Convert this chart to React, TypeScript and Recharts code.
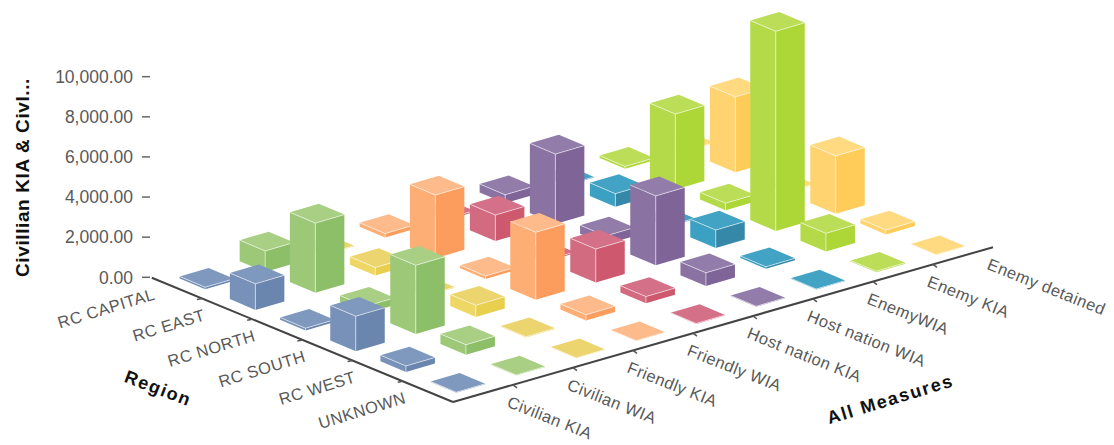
import { ReferenceLine, Scatter, ScatterChart, XAxis, YAxis } from 'recharts';

const regions = ['RC CAPITAL', 'RC EAST', 'RC NORTH', 'RC SOUTH', 'RC WEST', 'UNKNOWN'];
const measures = [
  'Civilian KIA',
  'Civilian WIA',
  'Friendly KIA',
  'Friendly WIA',
  'Host nation KIA',
  'Host nation WIA',
  'EnemyWIA',
  'Enemy KIA',
  'Enemy detained',
];
const valueTicks = [0, 2000, 4000, 6000, 8000, 10000];

// one value per region, same order as regions
const civilianKia = [100, 1300, 120, 1750, 300, 20];
const civilianWia = [1050, 3470, 350, 3430, 500, 20];
const friendlyKia = [30, 400, 30, 580, 40, 20];
const friendlyWia = [200, 3150, 150, 3360, 280, 20];
const hostNationKia = [60, 1300, 60, 1670, 330, 20];
const hostNationWia = [420, 3480, 430, 3460, 660, 20];
const enemyWia = [30, 650, 30, 900, 100, 20];
const enemyKia = [120, 3760, 350, 9950, 910, 50];
const enemyDetained = [30, 3760, 30, 2880, 220, 20];
const measureValues = [
  civilianKia,
  civilianWia,
  friendlyKia,
  friendlyWia,
  hostNationKia,
  hostNationWia,
  enemyWia,
  enemyKia,
  enemyDetained,
];

// top, left side, right side for each measure
const palette = [
  ['#7f98be', '#7891b8', '#6a85ae'],
  ['#a8cf84', '#9cc878', '#8dbf68'],
  ['#ecd56f', '#efd766', '#e9cf4e'],
  ['#fdbb8b', '#fdae75', '#fc9d5e'],
  ['#d47088', '#d26a80', '#ce586e'],
  ['#917caa', '#8a72a3', '#7f6498'],
  ['#43a3c4', '#3ba0c2', '#3688a8'],
  ['#bcdd58', '#b5da49', '#add637'],
  ['#ffda80', '#ffd36f', '#ffcb59'],
];

const WIDTH = 1114;
const HEIGHT = 445;
const AXIS_WIDTH = 150;
const Y_MIN = -8360;
const Y_MAX = 13823;
const FONT = '"Liberation Sans", Arial, sans-serif';

const yUnit = HEIGHT / (Y_MAX - Y_MIN);

// floor plane: one region step and one measure step, in pixels
const REGION_STEP = [50.2, 20.7];
const MEASURE_STEP = [60, -17.2];
const FRONT_CORNER = [303, 124.7]; // relative to the zero tick

// floor position given in region/measure steps -> chart x/y values
const project = (r: number, m: number, value = 0) => ({
  sx: FRONT_CORNER[0] + (r - 6) * REGION_STEP[0] + m * MEASURE_STEP[0],
  sy: value - (FRONT_CORNER[1] + (r - 6) * REGION_STEP[1] + m * MEASURE_STEP[1]) / yUnit,
});

const cells: any[] = [];
regions.forEach((_, r) => {
  for (let m = measures.length - 1; m >= 0; m--) {
    const value = measureValues[m][r];
    cells.push({ ...project(r + 0.5, m + 0.5, value), value, colors: palette[m] });
  }
});

const regionLabels = regions.map((text, r) => ({ ...project(r + 0.5, 0), text }));
const measureLabels = measures.map((text, m) => ({ ...project(6, m + 0.5), text }));
const regionTicks = regions.slice(1).map((_, r) => project(r + 1, 0));
const measureTicks = measures.slice(1).map((_, m) => project(6, m + 1));

const titles = [
  { sx: 6, sy: (277.3 - 394) / yUnit, text: 'Region', angle: 21, spacing: 1.5 },
  { sx: 742, sy: (277.3 - 405) / yUnit, text: 'All Measures', angle: -17, spacing: 1.7 },
];

const UX = 25.5;
const UY = 10.8;
const VX = 29;
const VY = -8.5;

const pts = (list: number[][]) => list.map((p) => p.join(',')).join(' ');

const BarBlock = (props: any) => {
  const { cx, cy, payload } = props;
  const h = payload.value * yUnit;
  const [top, leftSide, rightSide] = payload.colors;
  const left = [cx - UX / 2 - VX / 2, cy - UY / 2 - VY / 2];
  const front = [cx + UX / 2 - VX / 2, cy + UY / 2 - VY / 2];
  const right = [cx + UX / 2 + VX / 2, cy + UY / 2 + VY / 2];
  const back = [cx - UX / 2 + VX / 2, cy - UY / 2 + VY / 2];
  const down = (p: number[]) => [p[0], p[1] + h];
  const edge = 'rgba(255,255,255,0.55)';
  return (
    <g>
      <polygon points={pts([left, front, down(front), down(left)])} fill={leftSide} />
      <polygon points={pts([front, right, down(right), down(front)])} fill={rightSide} />
      <polygon points={pts([left, front, right, back])} fill={top} />
      <polyline points={pts([left, front, right])} fill="none" stroke={edge} strokeWidth={1} />
      <line x1={front[0]} y1={front[1]} x2={front[0]} y2={front[1] + h} stroke={edge} strokeWidth={1} />
    </g>
  );
};

const RegionLabel = ({ cx, cy, payload }: any) => (
  <text
    x={cx - 21}
    y={cy + 11}
    transform={`rotate(-17 ${cx - 21} ${cy + 11})`}
    textAnchor="end"
    fontSize={16.5}
    letterSpacing={0.45}
    fontFamily={FONT}
    fill="#595959"
  >
    {payload.text}
  </text>
);

const MeasureLabel = ({ cx, cy, payload }: any) => (
  <text
    x={cx + 23}
    y={cy + 13}
    transform={`rotate(21.8 ${cx + 23} ${cy + 13})`}
    fontSize={16.5}
    letterSpacing={0.45}
    fontFamily={FONT}
    fill="#595959"
  >
    {payload.text}
  </text>
);

const TitleLabel = ({ cx, cy, payload }: any) => (
  <text
    x={cx}
    y={cy}
    transform={`rotate(${payload.angle} ${cx} ${cy})`}
    textAnchor="middle"
    fontSize={18}
    fontWeight="bold"
    letterSpacing={payload.spacing}
    fontFamily={FONT}
    fill="#111"
  >
    {payload.text}
  </text>
);

const RegionTick = ({ cx, cy }: any) => (
  <line x1={cx} y1={cy} x2={cx - 5} y2={cy + 1} stroke="#555" strokeWidth={1.5} />
);

const MeasureTick = ({ cx, cy }: any) => (
  <line x1={cx} y1={cy} x2={cx + 4} y2={cy + 3} stroke="#555" strokeWidth={1.5} />
);

export default function App() {
  return (
    <div style={{ position: 'absolute', left: 0, top: 0, width: WIDTH, height: HEIGHT, background: '#fff' }}>
      <ScatterChart width={WIDTH} height={HEIGHT} margin={{ top: 0, right: 0, bottom: 0, left: 0 }}>
        <XAxis type="number" dataKey="sx" domain={[0, WIDTH - AXIS_WIDTH]} hide />
        <YAxis
          type="number"
          dataKey="sy"
          domain={[Y_MIN, Y_MAX]}
          ticks={valueTicks}
          width={AXIS_WIDTH}
          axisLine={false}
          tickSize={8}
          tickMargin={9}
          tickLine={{ stroke: '#666', strokeWidth: 1.5 }}
          tick={{ fontSize: 17.5, fontFamily: FONT, fill: '#595959' }}
          tickFormatter={(v: number) => v.toLocaleString('en-US', { minimumFractionDigits: 2 })}
          interval={0}
          label={{
            value: 'Civillian KIA & Civl...',
            angle: -90,
            position: 'insideLeft',
            offset: 22,
            dy: -45,
            style: { fontSize: 19, letterSpacing: 0.6, fontWeight: 'bold', fontFamily: FONT, fill: '#111', textAnchor: 'middle' },
          }}
        />
        <ReferenceLine
          segment={[project(0, 0), project(6, 0)].map((p) => ({ x: p.sx, y: p.sy }))}
          stroke="#444"
          strokeWidth={2}
          ifOverflow="visible"
        />
        <ReferenceLine
          segment={[project(6, 0), project(6, 9)].map((p) => ({ x: p.sx, y: p.sy }))}
          stroke="#444"
          strokeWidth={2}
          ifOverflow="visible"
        />
        <Scatter data={regionTicks} shape={RegionTick} isAnimationActive={false} />
        <Scatter data={measureTicks} shape={MeasureTick} isAnimationActive={false} />
        <Scatter data={cells} shape={BarBlock} isAnimationActive={false} />
        <Scatter data={regionLabels} shape={RegionLabel} isAnimationActive={false} />
        <Scatter data={measureLabels} shape={MeasureLabel} isAnimationActive={false} />
        <Scatter data={titles} shape={TitleLabel} isAnimationActive={false} />
      </ScatterChart>
    </div>
  );
}
